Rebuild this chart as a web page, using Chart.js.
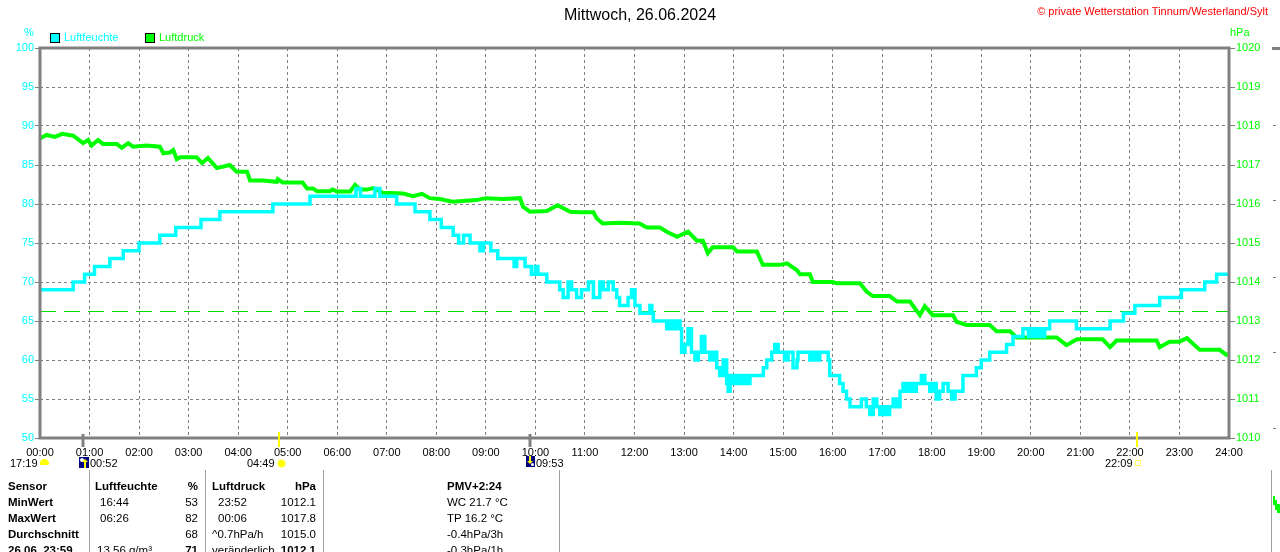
<!DOCTYPE html>
<html lang="de">
<head>
<meta charset="utf-8">
<title>Mittwoch, 26.06.2024 - Luftfeuchte / Luftdruck</title>
<script src="https://cdn.jsdelivr.net/npm/chart.js@4.4.1/dist/chart.umd.min.js"></script>
<style>
  body { margin: 0; background: #fff; font-family: Arial, "Liberation Sans", sans-serif; }
  #wrap { position: relative; width: 1280px; height: 552px; overflow: hidden; background: #fff; }
  #wetterChart { position: absolute; left: 0; top: 0; }
  .t { position: absolute; white-space: nowrap; font-size: 11px; line-height: 13px; color: #000; }
  .box { position: absolute; width: 8px; height: 8px; border: 1px solid #000; }
  .vl { position: absolute; width: 1px; background: #a0a0a0; top: 470px; height: 82px; }
  .row { position: absolute; left: 0; height: 16px; line-height: 16px; font-size: 11.5px; width: 600px; }
  .row span { position: absolute; white-space: nowrap; }
  .b { font-weight: bold; }
  .r { text-align: right; }
</style>
</head>
<body>
<div id="wrap">
  <canvas id="wetterChart" width="1280" height="552"></canvas>

  <div class="t" style="left:0;width:1280px;top:6px;text-align:center;font-size:16px;line-height:18px;">Mittwoch, 26.06.2024</div>
  <div class="t" style="right:12px;top:5px;color:#ff0000;">© private Wetterstation Tinnum/Westerland/Sylt</div>

  <div class="t" style="left:24px;top:26px;color:#00ffff;">%</div>
  <div class="t" style="left:1230px;top:26px;color:#00ff00;">hPa</div>
  <div class="box" style="left:50px;top:33px;background:#00ffff;"></div>
  <div class="t" style="left:64px;top:31px;color:#00ffff;">Luftfeuchte</div>
  <div class="box" style="left:145px;top:33px;background:#00ff00;"></div>
  <div class="t" style="left:159px;top:31px;color:#00ff00;">Luftdruck</div>

  <!-- Sonne / Mond -->
  <div class="t" style="left:10px;top:457px;">17:19</div>
  <div style="position:absolute;left:40px;top:459px;width:9px;height:6px;background:#ffff00;border-radius:5px 5px 1px 1px;"></div>
  <div style="position:absolute;left:79px;top:457px;width:10px;height:11px;background:#000080;">
    <div style="position:absolute;left:1px;top:1px;width:4px;height:4px;border-radius:50%;background:#fff;"></div>
    <div style="position:absolute;left:5px;top:5px;width:2px;height:6px;background:#ffff00;"></div>
    <div style="position:absolute;left:3px;top:2px;width:0;height:0;border-left:3px solid transparent;border-right:3px solid transparent;border-bottom:3px solid #ffff00;"></div>
  </div>
  <div class="t" style="left:90px;top:457px;">00:52</div>
  <div class="t" style="left:247px;top:457px;">04:49</div>
  <div style="position:absolute;left:278px;top:460px;width:7px;height:7px;border-radius:50%;background:#ffff00;box-shadow:0 0 0 1px #ffffa0;"></div>
  <div style="position:absolute;left:526px;top:456px;width:9px;height:11px;background:#000080;">
    <div style="position:absolute;left:3px;top:0;width:2px;height:5px;background:#ffff00;"></div>
    <div style="position:absolute;left:1px;top:5px;width:0;height:0;border-left:3px solid transparent;border-right:3px solid transparent;border-top:3px solid #ffff00;"></div>
    <div style="position:absolute;left:5px;top:7px;width:3px;height:3px;border-radius:50%;background:#fff;"></div>
  </div>
  <div class="t" style="left:536px;top:457px;">09:53</div>
  <div class="t" style="left:1105px;top:457px;">22:09</div>
  <div style="position:absolute;left:1135px;top:460px;width:4px;height:4px;border:1px solid #ffff60;"></div>

  <!-- Reste des Nachbardiagramms rechts -->
  <div style="position:absolute;left:1272px;top:47px;width:8px;height:3px;background:#808080;"></div>
  <div style="position:absolute;left:1273px;top:125px;width:3px;height:1px;background:#808080;"></div>
  <div style="position:absolute;left:1273px;top:200px;width:3px;height:1px;background:#808080;"></div>
  <div style="position:absolute;left:1273px;top:277px;width:3px;height:1px;background:#808080;"></div>
  <div style="position:absolute;left:1273px;top:352px;width:3px;height:1px;background:#808080;"></div>
  <div style="position:absolute;left:1273px;top:428px;width:3px;height:1px;background:#808080;"></div>
  <div class="vl" style="left:1271px;"></div>
  <div style="position:absolute;left:1273px;top:496px;width:2px;height:9px;background:#00ff00;"></div>
  <div style="position:absolute;left:1275px;top:500px;width:2px;height:10px;background:#00ff00;"></div>
  <div style="position:absolute;left:1277px;top:504px;width:3px;height:9px;background:#00ff00;"></div>

  <!-- Tabelle -->
  <div class="vl" style="left:89px;"></div>
  <div class="vl" style="left:205px;"></div>
  <div class="vl" style="left:323px;"></div>
  <div class="vl" style="left:559px;"></div>

  <div class="row" style="top:478px;">
    <span class="b" style="left:8px;">Sensor</span>
    <span class="b" style="left:95px;">Luftfeuchte</span>
    <span class="b r" style="right:402px;">%</span>
    <span class="b" style="left:212px;">Luftdruck</span>
    <span class="b r" style="right:284px;">hPa</span>
    <span class="b" style="left:447px;">PMV+2:24</span>
  </div>
  <div class="row" style="top:494px;">
    <span class="b" style="left:8px;">MinWert</span>
    <span style="left:100px;">16:44</span>
    <span class="r" style="right:402px;">53</span>
    <span style="left:218px;">23:52</span>
    <span class="r" style="right:284px;">1012.1</span>
    <span style="left:447px;">WC 21.7 °C</span>
  </div>
  <div class="row" style="top:510px;">
    <span class="b" style="left:8px;">MaxWert</span>
    <span style="left:100px;">06:26</span>
    <span class="r" style="right:402px;">82</span>
    <span style="left:218px;">00:06</span>
    <span class="r" style="right:284px;">1017.8</span>
    <span style="left:447px;">TP 16.2 °C</span>
  </div>
  <div class="row" style="top:526px;">
    <span class="b" style="left:8px;">Durchschnitt</span>
    <span class="r" style="right:402px;">68</span>
    <span style="left:212px;">^0.7hPa/h</span>
    <span class="r" style="right:284px;">1015.0</span>
    <span style="left:447px;">-0.4hPa/3h</span>
  </div>
  <div class="row" style="top:542px;">
    <span class="b" style="left:8px;">26.06. 23:59</span>
    <span style="left:97px;">13.56 g/m³</span>
    <span class="b r" style="right:402px;">71</span>
    <span style="left:212px;">veränderlich</span>
    <span class="b r" style="right:284px;">1012.1</span>
    <span style="left:447px;">-0.3hPa/1h</span>
  </div>
</div>

<script>
// Luftfeuchte (%) - Zeitpunkt (Stunden) ab dem der Wert gilt
const humTime = [
  0, 0.67, 0.9, 1.1, 1.41, 1.68, 2.0, 2.42, 2.74, 3.25,
  3.63, 4.7, 5.45, 6.38, 6.47, 6.76, 6.86, 7.2, 7.57, 7.87,
  8.1, 8.34, 8.45, 8.55, 8.68, 8.88, 8.95, 9.1, 9.24, 9.57,
  9.62, 9.79, 9.92, 10.0, 10.05, 10.23, 10.49, 10.56, 10.66, 10.73,
  10.83, 10.93, 11.07, 11.17, 11.3, 11.37, 11.47, 11.57, 11.64, 11.7,
  11.87, 11.94, 12.01, 12.11, 12.31, 12.35, 12.38, 12.65, 12.71, 12.78,
  12.85, 12.92, 12.95, 13.02, 13.08, 13.15, 13.22, 13.29, 13.35, 13.42,
  13.52, 13.59, 13.66, 13.72, 13.79, 13.86, 13.89, 13.93, 13.99, 14.06,
  14.13, 14.19, 14.26, 14.33, 14.6, 14.67, 14.77, 14.83, 14.9, 15.03,
  15.1, 15.2, 15.28, 15.3, 15.54, 15.6, 15.67, 15.74, 15.91, 15.94,
  16.14, 16.21, 16.28, 16.35, 16.48, 16.58, 16.68, 16.75, 16.82, 16.89,
  16.95, 17.02, 17.09, 17.15, 17.22, 17.29, 17.36, 17.42, 17.49, 17.56,
  17.62, 17.69, 17.79, 17.86, 17.96, 18.03, 18.09, 18.16, 18.23, 18.33,
  18.4, 18.47, 18.63, 18.9, 19.0, 19.17, 19.51, 19.64, 19.84, 19.95,
  20.01, 20.08, 20.15, 20.22, 20.28, 20.38, 20.92, 21.6, 21.87, 22.1,
  22.6, 23.04, 23.51, 23.75, 24
];
const humVal = [
  69, 70, 71, 72, 73, 74, 75, 76, 77, 78,
  79, 80, 81, 82, 81, 82, 81, 80, 79, 78,
  77, 76, 75, 76, 75, 74, 75, 74, 73, 72,
  73, 72, 71, 72, 71, 70, 69, 68, 70, 69,
  68, 69, 70, 68, 70, 69, 70, 69, 68, 67,
  68, 69, 67, 66, 67, 66, 65, 64, 65, 64,
  65, 64, 61, 62, 64, 61, 60, 61, 63, 61,
  60, 61, 59, 58, 60, 57, 56, 58, 57, 58,
  57, 58, 57, 58, 59, 60, 61, 62, 61, 60,
  61, 59, 60, 61, 60, 61, 60, 61, 60, 58,
  57, 56, 55, 54, 54, 55, 54, 53, 55, 54,
  53, 54, 53, 54, 55, 54, 56, 57, 56, 57,
  56, 57, 58, 57, 56, 57, 55, 56, 57, 56,
  55, 56, 58, 59, 60, 61, 62, 63, 64, 63,
  64, 63, 64, 63, 64, 65, 64, 65, 66, 67,
  68, 69, 70, 71, 71
];

// Luftdruck (hPa)
const presTime = [
  0, 0.13, 0.3, 0.45, 0.67, 0.87, 0.97, 1.04, 1.17, 1.27,
  1.55, 1.65, 1.78, 1.88, 2.15, 2.42, 2.49, 2.62, 2.69, 2.76,
  2.83, 3.16, 3.27, 3.39, 3.57, 3.83, 3.97, 4.18, 4.24, 4.5,
  4.78, 4.8, 4.9, 5.3, 5.39, 5.51, 5.59, 5.85, 5.91, 5.99,
  6.26, 6.36, 6.46, 6.6, 6.73, 6.92, 7.33, 7.53, 7.71, 7.87,
  8.07, 8.33, 8.8, 9.0, 9.35, 9.69, 9.75, 9.89, 10.23, 10.45,
  10.7, 10.9, 11.17, 11.24, 11.36, 11.7, 12.1, 12.25, 12.51, 12.65,
  12.86, 13.08, 13.26, 13.38, 13.48, 13.58, 13.99, 14.07, 14.47, 14.59,
  14.93, 15.08, 15.28, 15.34, 15.54, 15.6, 16.0, 16.08, 16.55, 16.69,
  16.81, 17.15, 17.3, 17.56, 17.76, 17.86, 18.02, 18.43, 18.5, 18.7,
  19.17, 19.31, 19.58, 19.71, 20.52, 20.72, 20.93, 21.45, 21.6, 21.73,
  22.54, 22.6, 22.8, 23.0, 23.15, 23.41, 23.81, 23.95, 24
];
const presVal = [
  1017.68, 1017.77, 1017.72, 1017.8, 1017.75, 1017.56, 1017.64, 1017.5, 1017.64, 1017.54,
  1017.54, 1017.44, 1017.56, 1017.47, 1017.5, 1017.47, 1017.3, 1017.32, 1017.38, 1017.15,
  1017.2, 1017.2, 1017.05, 1017.18, 1016.92, 1017.0, 1016.83, 1016.83, 1016.6, 1016.6,
  1016.57, 1016.64, 1016.55, 1016.55, 1016.4, 1016.4, 1016.33, 1016.33, 1016.37, 1016.32,
  1016.32, 1016.49, 1016.37, 1016.37, 1016.41, 1016.29, 1016.27, 1016.2, 1016.26, 1016.15,
  1016.13, 1016.06, 1016.1, 1016.15, 1016.13, 1016.15, 1015.93, 1015.8, 1015.82, 1015.97,
  1015.8, 1015.79, 1015.79, 1015.63, 1015.5, 1015.52, 1015.5, 1015.4, 1015.4, 1015.29,
  1015.16, 1015.29, 1015.06, 1015.06, 1014.74, 1014.89, 1014.89, 1014.78, 1014.78, 1014.44,
  1014.44, 1014.48, 1014.3, 1014.2, 1014.2, 1014.0, 1014.0, 1013.97, 1013.97, 1013.75,
  1013.64, 1013.64, 1013.5, 1013.5, 1013.15, 1013.38, 1013.15, 1013.15, 1012.98, 1012.9,
  1012.9, 1012.74, 1012.74, 1012.58, 1012.58, 1012.38, 1012.53, 1012.53, 1012.33, 1012.5,
  1012.5, 1012.33, 1012.47, 1012.47, 1012.56, 1012.26, 1012.26, 1012.13, 1012.15
];

// Normaldruck (gestrichelte Linie)
const normPressure = 1013.25;

// Mond- und Sonnenzeiten auf der Zeitachse
const eventTimes = [0.867, 4.817, 9.883, 22.15];
const eventKinds = ['mond', 'sonne', 'mond', 'sonne'];

const FONT = 'Arial, "Liberation Sans", sans-serif';
const GRAY = '#808080';

const humPoints = humTime.map((t, i) => ({ x: t, y: humVal[i] }));
const presPoints = presTime.map((t, i) => ({ x: t, y: presVal[i] }));

function pad2(v) { return (v < 10 ? '0' : '') + v; }

const framePlugin = {
  id: 'frame',
  beforeDatasetsDraw(chart) {
    const { ctx, chartArea: a, scales } = chart;
    const y = Math.round(scales.yP.getPixelForValue(normPressure)) + 0.5;
    ctx.save();
    ctx.strokeStyle = '#00e000';
    ctx.lineWidth = 1;
    ctx.setLineDash([16, 8]);
    ctx.beginPath();
    ctx.moveTo(a.left, y);
    ctx.lineTo(a.right, y);
    ctx.stroke();
    ctx.restore();
  },
  afterDatasetsDraw(chart) {
    const { ctx, chartArea: a, scales } = chart;
    ctx.save();
    ctx.strokeStyle = GRAY;
    ctx.lineWidth = 3;
    ctx.setLineDash([]);
    ctx.strokeRect(a.left, a.top, a.right - a.left, a.bottom - a.top);

    eventTimes.forEach((t, i) => {
      const x = Math.round(scales.x.getPixelForValue(t));
      if (eventKinds[i] === 'sonne') {
        ctx.strokeStyle = '#ffff00';
        ctx.lineWidth = 2;
        ctx.beginPath();
        ctx.moveTo(x, a.bottom - 6);
        ctx.lineTo(x, a.bottom + 9);
        ctx.stroke();
      } else {
        ctx.strokeStyle = GRAY;
        ctx.lineWidth = 3;
        ctx.beginPath();
        ctx.moveTo(x, a.bottom - 4);
        ctx.lineTo(x, a.bottom + 9);
        ctx.stroke();
      }
    });
    ctx.restore();
  }
};

const ctx = document.getElementById('wetterChart').getContext('2d');
const wetterChart = new Chart(ctx, {
  type: 'line',
  data: {
    datasets: [
      {
        label: 'Luftfeuchte',
        data: humPoints,
        yAxisID: 'yH',
        borderColor: '#00ffff',
        borderWidth: 3.5,
        stepped: true,
        pointRadius: 0,
        fill: false
      },
      {
        label: 'Luftdruck',
        data: presPoints,
        yAxisID: 'yP',
        borderColor: '#00ff00',
        borderWidth: 4,
        tension: 0,
        pointRadius: 0,
        fill: false
      }
    ]
  },
  options: {
    responsive: false,
    animation: false,
    layout: { padding: { top: 48, left: 0, right: 0, bottom: 0 } },
    plugins: {
      legend: { display: false },
      tooltip: { enabled: false },
      title: { display: false }
    },
    scales: {
      x: {
        type: 'linear',
        min: 0,
        max: 24,
        afterFit: (s) => { s.height = 114; },
        ticks: {
          stepSize: 1,
          autoSkip: false,
          maxRotation: 0,
          padding: 8,
          color: '#000',
          font: { family: FONT, size: 11 },
          callback: (v) => pad2(v) + ':00'
        },
        grid: { color: GRAY, lineWidth: 1, drawTicks: false },
        border: { display: false, dash: [3, 3] }
      },
      yH: {
        type: 'linear',
        position: 'left',
        min: 50,
        max: 100,
        afterFit: (s) => { s.width = 40; },
        ticks: {
          stepSize: 5,
          padding: 1,
          color: '#00ffff',
          font: { family: FONT, size: 11 },
          callback: (v) => String(v)
        },
        grid: {
          color: GRAY, lineWidth: 1, drawTicks: true, tickLength: 5,
          tickColor: GRAY, tickWidth: 1, tickBorderDash: []
        },
        border: { display: false, dash: [3, 3] }
      },
      yP: {
        type: 'linear',
        position: 'right',
        min: 1010,
        max: 1020,
        afterFit: (s) => { s.width = 51; },
        ticks: {
          stepSize: 1,
          padding: 1,
          color: '#00ff00',
          font: { family: FONT, size: 11 },
          callback: (v) => String(v)
        },
        grid: {
          drawOnChartArea: false, drawTicks: true, tickLength: 6,
          tickColor: GRAY, tickWidth: 1, tickBorderDash: []
        },
        border: { display: false }
      }
    }
  },
  plugins: [framePlugin]
});
</script>
</body>
</html>
